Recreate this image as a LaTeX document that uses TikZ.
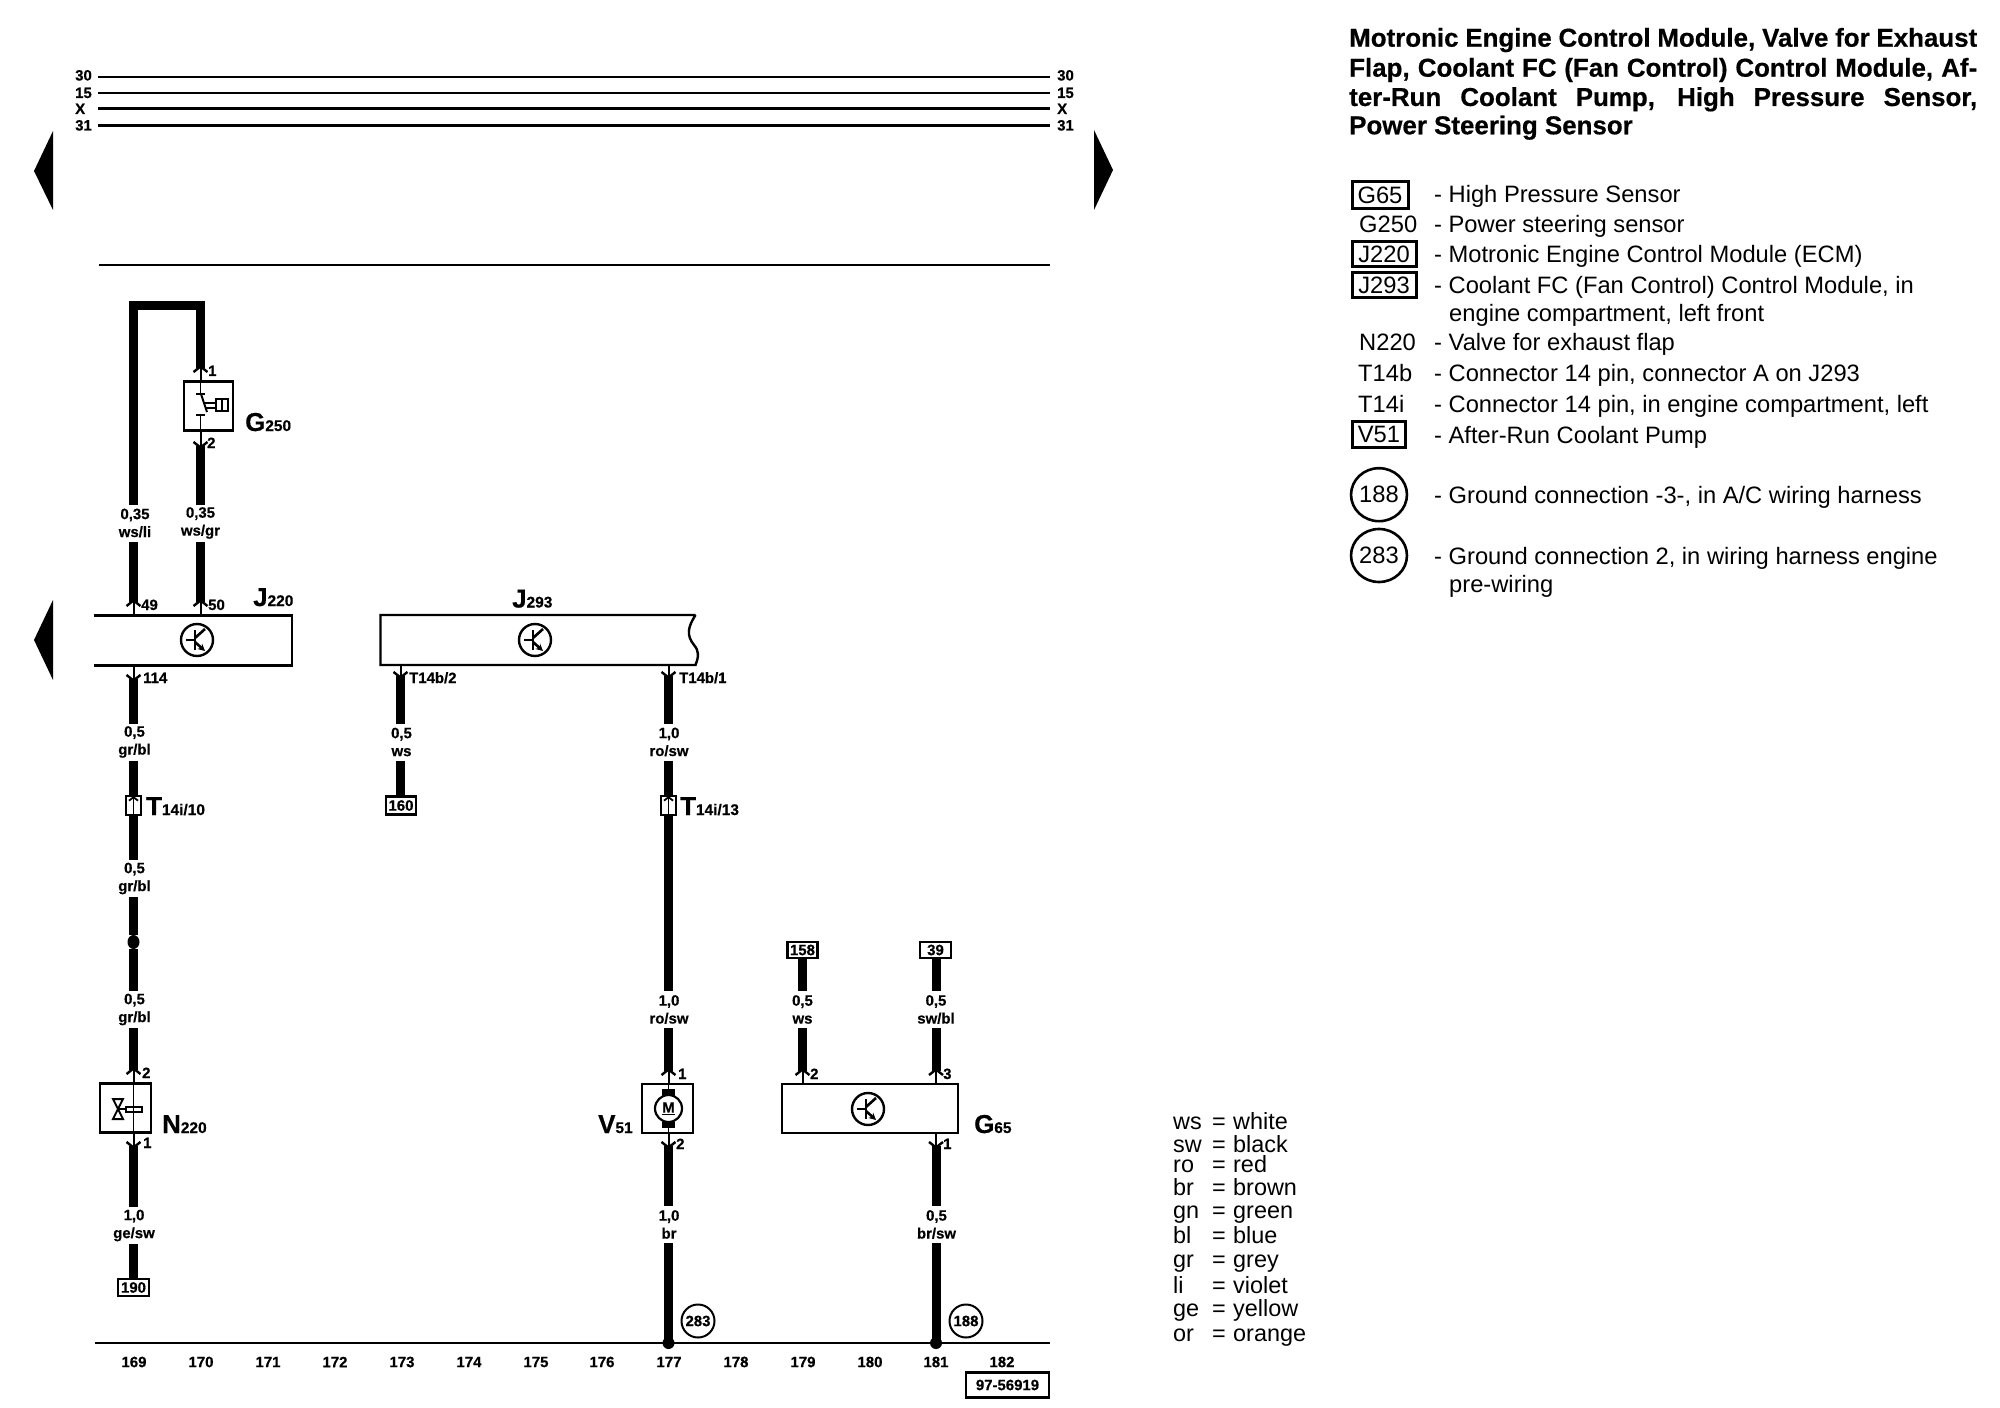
\documentclass[tikz,border=0pt]{standalone}
\usepackage{fontspec}
\setmainfont[BoldFeatures={FakeBold=0.5}]{Liberation Sans}
\usetikzlibrary{arrows.meta,calc,shapes.geometric}
\newcommand{\bigsub}[2]{{\fontsize{26}{26}\selectfont #1}{\fontsize{15.5}{15.5}\selectfont #2}}
\newcommand{\justline}[1]{\hbox to 628bp{\spaceskip=.25em plus 1fil minus .2em #1}}
\tikzset{
  wire/.style={line width=9bp,line cap=butt,miter limit=10},
  wirefrompin/.style={wire,shorten <=-3bp},
  wiretopin/.style={wire,shorten >=-3bp},
  pinline/.style={line width=2bp,-{Straight Barb[length=5.5bp,width=14bp,line width=2.4bp]}},
  thinline/.style={line width=1.6bp},
  bus/.style={line width=2.2bp},
  busthick/.style={line width=3bp},
  part/.style={draw,line width=2.4bp,inner sep=0pt,outer sep=0pt,fill=white},
  ghost/.style={inner sep=0pt,outer sep=0pt},
  wirelabel/.style={inner sep=0pt,outer sep=0pt,minimum height=37bp,align=center,font=\fontsize{15}{18}\selectfont\bfseries},
  pinlabel/.style={anchor=base west,inner sep=0pt,font=\fontsize{15}{15}\selectfont\bfseries},
  collabel/.style={anchor=center,inner sep=0pt,font=\fontsize{15}{15}\selectfont\bfseries},
  partname/.style={anchor=base west,inner sep=0pt,font=\bfseries},
  refbox/.style={draw,line width=2.6bp,inner sep=0pt,outer sep=0pt,fill=white,font=\fontsize{15}{15}\selectfont\bfseries},
  groundref/.style={draw,circle,line width=2bp,minimum size=33bp,inner sep=0pt,outer sep=0pt,font=\fontsize{15}{15}\selectfont\bfseries},
  titleline/.style={anchor=base west,inner sep=0pt,font=\fontsize{26}{29}\selectfont\bfseries},
  legend/.style={anchor=base west,inner sep=0pt,font=\fontsize{23.8}{28}\selectfont},
  legendbox/.style={draw,line width=3bp,inner sep=0pt,outer sep=0pt,font=\fontsize{23.8}{28}\selectfont},
  legendring/.style={draw,ellipse,line width=2.6bp,inner sep=0pt,outer sep=0pt,font=\fontsize{23.8}{28}\selectfont},
  colourkey/.style={anchor=base west,inner sep=0pt,font=\fontsize{23.5}{24}\selectfont},
  transistor/.pic={
    \draw[line width=2.4bp] (0,0) circle[radius=16bp];
    \draw[line width=2.4bp] (-11,0) -- (-2,0);
    \draw[line width=2.8bp] (-2,-10) -- (-2,10);
    \draw[line width=2.6bp] (-2,-2) -- (8,-11);
    \draw[line width=2.6bp,-{Stealth[length=7bp,width=7bp]}] (-2,2) -- (8,11);
  },
}
\begin{document}
\begin{tikzpicture}[x=1bp,y=-1bp]
\useasboundingbox (0,0) rectangle (2000,1408);
\fill[white] (0,0) rectangle (2000,1408);

% bus rails
\foreach \t/\b/\y/\s in {30/80.5/77/bus,15/98/93/bus,X/114/109/busthick,31/130.5/126/busthick}{
  \node[pinlabel] (busl\t) at (75,\b) {\t};
  \node[pinlabel] (busr\t) at (1057,\b) {\t};
  \coordinate (ba\t) at (98,\y);
  \coordinate (bb\t) at (1050,\y);
  \draw[\s] (ba\t) -- (bb\t);
}
\coordinate (railL) at (99,265);
\coordinate (railR) at (1050,265);
\draw[line width=2.2bp] (railL) -- (railR);
\coordinate (gndL) at (95,1343);
\coordinate (gndR) at (1050,1343);
\draw[line width=2.2bp] (gndL) -- (gndR);

% page arrows
\fill (53,131) -- (34,171) -- (53,210) -- cycle;
\fill (1094,130) -- (1113,170) -- (1094,210) -- cycle;
\fill (53,600) -- (34,640) -- (53,680) -- cycle;

% column numbers
\foreach \n/\x in {169/134,170/201,171/268,172/335,173/402,174/469,175/536,176/602,177/669,178/736,179/803,180/870,181/936,182/1002}{
  \node[collabel] (col\n) at (\x,1362) {\n};
}
\node[refbox,minimum width=83bp,minimum height=25bp] (docno) at (1007.5,1385) {97-56919};

% G250
\node[part,minimum width=49bp,minimum height=49bp] (G250) at (208.5,406) {};
\node[partname] (G250n) at (245,431) {\bigsub{G}{250}};
\coordinate (pG1) at (200.5,365);
\coordinate (pG2) at (200.5,449);
\coordinate (sw1) at (200.5,394);
\coordinate (sw2) at (200.5,415);
\draw[pinline] (G250.north -| pG1) -- (pG1);
\draw[pinline] (G250.south -| pG2) -- (pG2);
\draw[thinline] (G250.north -| sw1) -- (sw1);
\draw[thinline] (G250.south -| sw2) -- (sw2);
\draw[line width=2bp] (196,394) -- (205,394);
\draw[line width=2bp] (196,415) -- (205,415);
\draw[line width=2bp] (201,394) -- (207,412);
\draw[line width=1.8bp] (205,403) -- (215,403) (206,408) -- (215,408);
\draw[line width=2.2bp] (216,399) rectangle (228,411);
\draw[line width=2bp] (222,399) -- (222,411);
\node[pinlabel] at (208,376) {1};
\node[pinlabel] at (207,448) {2};

% J220
\node[ghost,minimum width=198bp,minimum height=50bp] (J220) at (193,640.5) {};
\draw[line width=2.4bp] (J220.north west) -- (J220.north east) -- (J220.south east) -- (J220.south west);
\pic at (197,640) {transistor};
\node[partname] (J220n) at (253,606) {\bigsub{J}{220}};

% J293
\node[ghost,minimum width=315bp,minimum height=50bp] (J293) at (538,640) {};
\draw[line width=2.4bp] (J293.north east) -- (J293.north west) -- (J293.south west) -- (J293.south east)
  .. controls (699,656) and (699,651) .. (694,645) .. controls (686,635) and (688,627) .. (J293.north east);
\pic at (535,640) {transistor};
\node[partname] (J293n) at (512,607.5) {\bigsub{J}{293}};

% wires, column 169 and 170
\node[wirelabel] (L49) at (135,523) {0,35\\ws/li};
\node[wirelabel] (L50) at (200.5,523) {0,35\\ws/gr};
\coordinate (p49) at (133.5,599);
\coordinate (p50) at (200.5,599);
\coordinate (loopA) at (133.5,305.5);
\coordinate (loopB) at (200.5,305.5);
\draw[pinline] (J220.north -| p49) -- (p49);
\draw[pinline] (J220.north -| p50) -- (p50);
\draw[wirefrompin] (p49) -- (p49 |- L49.south);
\draw[wirefrompin] (p50) -- (p50 |- L50.south);
\draw[wirefrompin] (pG2) -- (pG2 |- L50.north);
\draw[wiretopin] (loopA |- L49.north) -- (loopA) -- (loopB) -- (pG1);
\node[pinlabel] at (141,610) {49};
\node[pinlabel] at (208,610) {50};
\node[pinlabel] at (143,683) {114};

\coordinate (p114) at (133.5,682);
\draw[pinline] (J220.south -| p114) -- (p114);
\node[wirelabel] (L114) at (134.5,742) {0,5\\gr/bl};
\node[part,minimum width=15bp,minimum height=19bp] (T10) at (133.5,805.5) {};
\draw[line width=1.6bp,-{Straight Barb[length=3.5bp,width=9bp,line width=1.8bp]}] (T10.south) -- (T10.north);
\node[partname] (T10n) at (146,815) {\bigsub{T}{14i/10}};
\node[wirelabel] (L10) at (134.5,878.5) {0,5\\gr/bl};
\node[wirelabel] (L11) at (134.5,1009.5) {0,5\\gr/bl};
\draw[wirefrompin] (p114) -- (p114 |- L114.north);
\draw[wire] (p114 |- L114.south) -- (T10.north);
\draw[wire] (T10.south) -- (p114 |- L10.north);
\node[ellipse,fill=black,minimum width=12bp,minimum height=14bp,inner sep=0pt] (splice) at (133.5,942) {};
\draw[wire] (p114 |- L10.south) -- (splice) -- (p114 |- L11.north);

% N220
\node[part,minimum width=51bp,minimum height=49bp] (N220) at (125.5,1108) {};
\node[partname] (N220n) at (162,1133) {\bigsub{N}{220}};
\coordinate (pN2) at (133.5,1067);
\coordinate (pN1) at (133.5,1149);
\draw[line width=2bp] (113,1099) -- (123,1099) -- (113,1119) -- (123,1119) -- cycle;
\draw[line width=2bp] (118,1109) -- (126,1109);
\draw[line width=2bp] (126,1107) rectangle (142,1112);
\draw[pinline] (N220.north -| pN2) -- (pN2);
\draw[pinline] (N220.south -| pN1) -- (pN1);
\draw[thinline] (N220.north -| pN2) -- (N220.south -| pN1);
\node[pinlabel] at (142,1078) {2};
\node[pinlabel] at (143,1148) {1};
\draw[wiretopin] (p114 |- L11.south) -- (pN2);
\node[wirelabel] (LN) at (134,1225.5) {1,0\\ge/sw};
\node[refbox,minimum width=31bp,minimum height=17bp] (r190) at (133.5,1287.5) {190};
\draw[wirefrompin] (pN1) -- (pN1 |- LN.north);
\draw[wire] (pN1 |- LN.south) -- (r190.north -| pN1);

% column 173
\coordinate (pB2) at (400.5,679);
\draw[pinline] (J293.south -| pB2) -- (pB2);
\node[pinlabel] at (409,683) {T14b/2};
\node[wirelabel] (LB2) at (401.5,742) {0,5\\ws};
\node[refbox,minimum width=30bp,minimum height=18bp] (r160) at (401,805.5) {160};
\draw[wirefrompin] (pB2) -- (pB2 |- LB2.north);
\draw[wire] (pB2 |- LB2.south) -- (pB2 |- r160.north);

% column 177
\coordinate (pB1) at (668.5,679);
\draw[pinline] (J293.south -| pB1) -- (pB1);
\node[pinlabel] at (679,683) {T14b/1};
\node[wirelabel] (LB1) at (669,742) {1,0\\ro/sw};
\node[part,minimum width=15bp,minimum height=19bp] (T13) at (668.5,805.5) {};
\draw[line width=1.6bp,-{Straight Barb[length=3.5bp,width=9bp,line width=1.8bp]}] (T13.south) -- (T13.north);
\node[partname] (T13n) at (680,815) {\bigsub{T}{14i/13}};
\node[wirelabel] (LV1) at (669,1009.5) {1,0\\ro/sw};
\draw[wirefrompin] (pB1) -- (pB1 |- LB1.north);
\draw[wire] (pB1 |- LB1.south) -- (T13.north);
\draw[wire] (T13.south) -- (pB1 |- LV1.north);

% V51
\node[part,minimum width=51bp,minimum height=49bp] (V51) at (667.5,1108.5) {};
\node[partname] (V51n) at (598,1133) {\bigsub{V}{51}};
\coordinate (pV1) at (668.5,1068);
\coordinate (pV2) at (668.5,1149);
\node[draw,circle,line width=2.2bp,minimum size=27bp,inner sep=0pt,font=\fontsize{15}{15}\selectfont\bfseries] (M) at (668.5,1108.5) {\underline{M}};
\fill (662,1089) rectangle (675,1095.5);
\fill (662,1122) rectangle (675,1128);
\draw[pinline] (V51.north -| pV1) -- (pV1);
\draw[pinline] (V51.south -| pV2) -- (pV2);
\draw[thinline] (V51.north -| pV1) -- ($(V51.north -| pV1)+(0,6)$);
\draw[thinline] (V51.south -| pV2) -- ($(V51.south -| pV2)+(0,-6)$);
\node[pinlabel] at (678,1079) {1};
\node[pinlabel] at (676,1149) {2};
\draw[wiretopin] (pB1 |- LV1.south) -- (pV1);
\node[wirelabel] (LV2) at (669,1224.5) {1,0\\br};
\coordinate (g283) at (668.5,1343);
\draw[wirefrompin] (pV2) -- (pV2 |- LV2.north);
\draw[wire] (pV2 |- LV2.south) -- (g283);
\fill (g283) circle[radius=6bp];
\node[groundref] (c283) at (698,1321) {283};

% G65
\node[part,minimum width=176bp,minimum height=49bp] (G65) at (870,1108.5) {};
\pic at (868,1109) {transistor};
\node[partname] (G65n) at (974,1133) {\bigsub{G}{65}};
\coordinate (pG65b) at (802.5,1068);
\coordinate (pG65c) at (936,1068);
\coordinate (pG65a) at (936,1149);
\draw[pinline] (G65.north -| pG65b) -- (pG65b);
\draw[pinline] (G65.north -| pG65c) -- (pG65c);
\draw[pinline] (G65.south -| pG65a) -- (pG65a);
\node[pinlabel] at (810,1079) {2};
\node[pinlabel] at (943,1079) {3};
\node[pinlabel] at (943,1149) {1};
\node[refbox,minimum width=30bp,minimum height=16bp] (r158) at (802.5,950) {158};
\node[refbox,minimum width=31bp,minimum height=16bp] (r39) at (935.5,950) {39};
\node[wirelabel] (LG1) at (802.5,1009.5) {0,5\\ws};
\node[wirelabel] (LG2) at (936,1009.5) {0,5\\sw/bl};
\node[wirelabel] (LG3) at (936.5,1224.5) {0,5\\br/sw};
\draw[wire] (r158.south -| pG65b) -- (pG65b |- LG1.north);
\draw[wiretopin] (pG65b |- LG1.south) -- (pG65b);
\draw[wire] (r39.south -| pG65c) -- (pG65c |- LG2.north);
\draw[wiretopin] (pG65c |- LG2.south) -- (pG65c);
\coordinate (g188) at (936,1343);
\draw[wirefrompin] (pG65a) -- (pG65a |- LG3.north);
\draw[wire] (pG65a |- LG3.south) -- (g188);
\fill (g188) circle[radius=6bp];
\node[groundref] (c188) at (966,1321) {188};

% title
\node[titleline] (title1) at (1349,46.7) {\justline{Motronic Engine Control Module, Valve for Exhaust}};
\node[titleline] (title2) at (1349,76.7) {\justline{Flap, Coolant FC (Fan Control) Control Module, Af-}};
\node[titleline] (title3) at (1349,106) {\justline{ter-Run Coolant Pump, High Pressure Sensor,}};
\node[titleline] (title4) at (1349,134.3) {Power Steering Sensor};

% legend
\node[legendbox,minimum width=56bp,minimum height=27bp] (kG65) at (1380,195) {G65};
\node[legend] (kG250) at (1359,232.7) {G250};
\node[legendbox,minimum width=64bp,minimum height=25bp] (kJ220) at (1384,254.5) {J220};
\node[legendbox,minimum width=64bp,minimum height=25bp] (kJ293) at (1384,285.5) {J293};
\node[legend] (kN220) at (1359,351) {N220};
\node[legend] (kT14b) at (1358,381.7) {T14b};
\node[legend] (kT14i) at (1358,412.7) {T14i};
\node[legendbox,minimum width=53bp,minimum height=26bp] (kV51) at (1379,434.5) {V51};
\node[legendring,minimum width=53bp,minimum height=53bp] (k188) at (1379,494.7) {188};
\node[legendring,minimum width=53bp,minimum height=53bp] (k283) at (1379,555.5) {283};
\foreach \y/\t in {202.7/{High Pressure Sensor},232.7/{Power steering sensor},262.7/{Motronic Engine Control Module (ECM)},293.7/{Coolant FC (Fan Control) Control Module, in},351/{Valve for exhaust flap},381.7/{Connector 14 pin, connector A on J293},412.7/{Connector 14 pin, in engine compartment, left},443.3/{After-Run Coolant Pump},503.3/{Ground connection -3-, in A/C wiring harness},564.3/{Ground connection 2, in wiring harness engine}}{
  \node[legend] at (1434,\y) {- \t};
}
\node[legend] at (1449,321.7) {engine compartment, left front};
\node[legend] at (1449,592.6) {pre-wiring};

% colour key
\foreach \k/\v/\y in {ws/white/1129,sw/black/1152,ro/red/1172,br/brown/1195,gn/green/1218,bl/blue/1243,gr/grey/1267,li/violet/1293,ge/yellow/1316,or/orange/1341}{
  \node[colourkey] at (1173,\y) {\makebox[39bp][l]{\k}\makebox[21bp][l]{=}\v};
}
\end{tikzpicture}
\end{document}
